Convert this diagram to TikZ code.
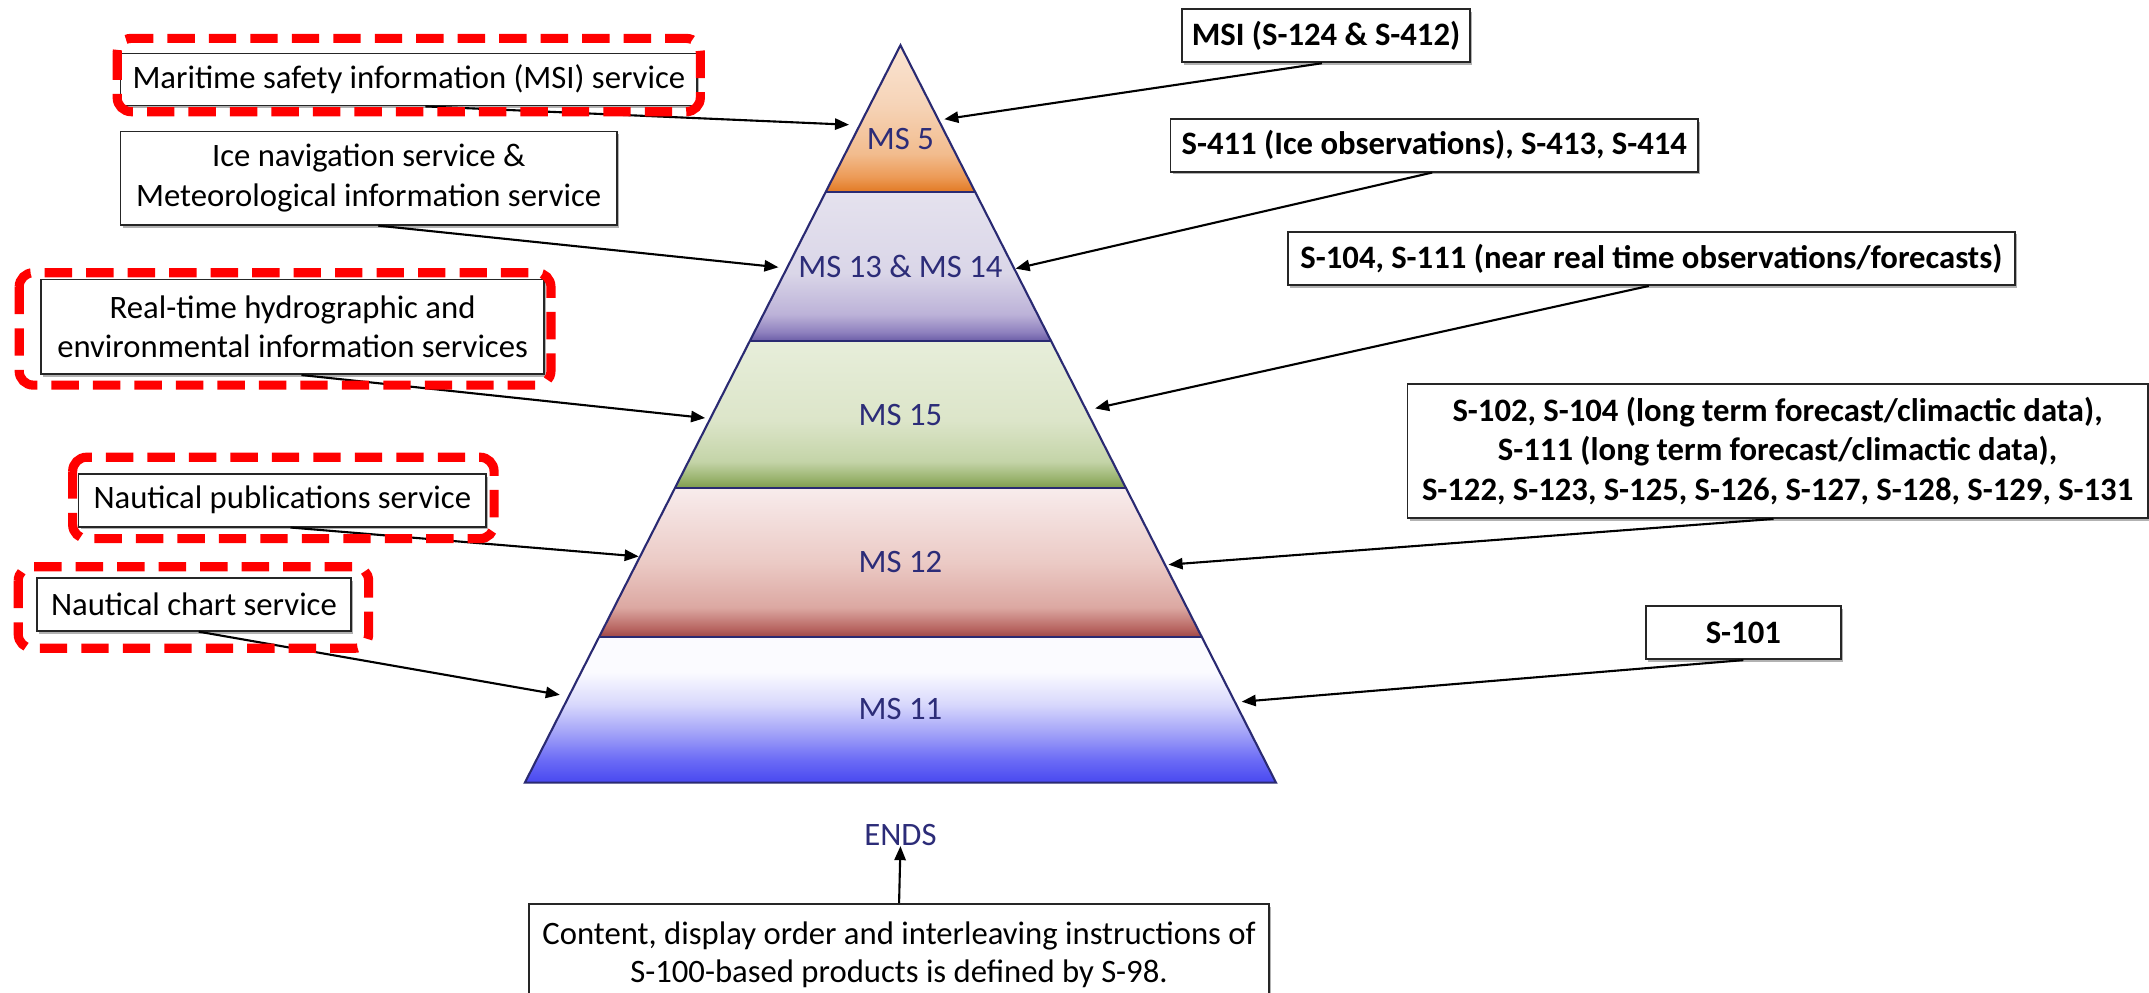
\documentclass[tikz,border=0pt]{standalone}
\usepackage{fontspec}
\setmainfont{Carlito}
\usetikzlibrary{arrows.meta,calc,shadows}

% one drawing unit
\newcommand{\dpx}{0.013705cm}

\definecolor{pyrline}{HTML}{2A2A72}
\definecolor{lvltext}{HTML}{2C2C78}
\definecolor{hired}{HTML}{FF0000}

% band colours, bottom (dark) to top (light)
\definecolor{fiveA}{HTML}{E27A24}\definecolor{fiveB}{HTML}{EC9A56}\definecolor{fiveC}{HTML}{F2BC8E}\definecolor{fiveD}{HTML}{F6D4B8}\definecolor{fiveE}{HTML}{FAE4D2}
\definecolor{thirA}{HTML}{6A5CA6}\definecolor{thirB}{HTML}{8E80BE}\definecolor{thirC}{HTML}{BCB2D8}\definecolor{thirD}{HTML}{DAD6E8}\definecolor{thirE}{HTML}{E5E2EE}
\definecolor{fiftA}{HTML}{7E9C4E}\definecolor{fiftB}{HTML}{98B26C}\definecolor{fiftC}{HTML}{C4D4A8}\definecolor{fiftD}{HTML}{DCE5C9}\definecolor{fiftE}{HTML}{E7EEDA}
\definecolor{twelA}{HTML}{9E4646}\definecolor{twelB}{HTML}{B86662}\definecolor{twelC}{HTML}{DCA8A2}\definecolor{twelD}{HTML}{EBCAC5}\definecolor{twelE}{HTML}{F8ECEC}
\definecolor{elevA}{HTML}{4848F0}\definecolor{elevB}{HTML}{6C6CF6}\definecolor{elevC}{HTML}{A2A2F8}\definecolor{elevD}{HTML}{D8D8FC}\definecolor{elevE}{HTML}{FBFBFF}

\pgfdeclareverticalshading{bandfive}{100bp}{color(0bp)=(fiveA); color(25bp)=(fiveA); color(30bp)=(fiveB); color(38bp)=(fiveC); color(55bp)=(fiveD); color(75bp)=(fiveE); color(100bp)=(fiveE)}
\pgfdeclareverticalshading{bandthirteen}{100bp}{color(0bp)=(thirA); color(25bp)=(thirA); color(28bp)=(thirB); color(34bp)=(thirC); color(48bp)=(thirD); color(75bp)=(thirE); color(100bp)=(thirE)}
\pgfdeclareverticalshading{bandfifteen}{100bp}{color(0bp)=(fiftA); color(25bp)=(fiftA); color(28bp)=(fiftB); color(34bp)=(fiftC); color(48bp)=(fiftD); color(75bp)=(fiftE); color(100bp)=(fiftE)}
\pgfdeclareverticalshading{bandtwelve}{100bp}{color(0bp)=(twelA); color(25bp)=(twelA); color(28bp)=(twelB); color(35bp)=(twelC); color(50bp)=(twelD); color(75bp)=(twelE); color(100bp)=(twelE)}
\pgfdeclareverticalshading{bandeleven}{100bp}{color(0bp)=(elevA); color(25bp)=(elevA); color(33bp)=(elevB); color(42bp)=(elevC); color(52bp)=(elevD); color(63bp)=(elevE); color(75bp)=(elevE); color(100bp)=(elevE)}

\tikzset{
  txtbox/.style={draw=black!85, line width=0.5pt, fill=white, inner sep=0pt, align=center,
    font=\fontsize{9.3}{11.2}\selectfont,
    drop shadow={shadow xshift=0.6pt, shadow yshift=-0.8pt, fill=black!30, opacity=1}},
  codebox/.style={txtbox, font=\fontsize{9.3}{11.2}\selectfont\bfseries},
  lvl/.style={text=lvltext, font=\fontsize{9.3}{11.2}\selectfont, inner sep=0pt},
  conn/.style={draw=black, line width=0.6pt, -{Triangle[length=4pt,width=3.2pt]}},
  hilite/.style={draw=hired, line width=2.6pt, rounded corners=4pt, dash pattern=on 7.8pt off 4pt}
}

\begin{document}
\begin{tikzpicture}[x=\dpx, y=-\dpx]
\useasboundingbox (0,0) rectangle (1568,724.5);
\clip (0,0) rectangle (1568,724.5);

% pyramid bands
\shade[shading=bandfive]     (657,33) -- (711.5,140) -- (602.5,140) -- cycle;
\shade[shading=bandthirteen] (602.5,140) -- (711.5,140) -- (767,249) -- (547,249) -- cycle;
\shade[shading=bandfifteen]  (547,249) -- (767,249) -- (821.5,356) -- (492.5,356) -- cycle;
\shade[shading=bandtwelve]   (492.5,356) -- (821.5,356) -- (877,465) -- (437,465) -- cycle;
\shade[shading=bandeleven]   (437,465) -- (877,465) -- (931,571) -- (383,571) -- cycle;
\draw[pyrline, line width=0.6pt]
  (602.5,140) -- (711.5,140) (547,249) -- (767,249) (492.5,356) -- (821.5,356) (437,465) -- (877,465);
\draw[pyrline, line width=0.6pt, line join=miter] (657,33) -- (931,571) -- (383,571) -- cycle;

% level labels
\node[lvl] (ms5)  at (657,101.5) {MS 5};
\node[lvl] (ms13) at (657,194.5) {MS 13 \& MS 14};
\node[lvl] (ms15) at (657,302.5) {MS 15};
\node[lvl] (ms12) at (657,410)   {MS 12};
\node[lvl] (ms11) at (657,517.5) {MS 11};
\node[lvl] (ends) at (657,609)   {ENDS};

% arrow tips on the pyramid sides
\coordinate (t1) at (619.5,91);
\coordinate (t2) at (568,195);
\coordinate (t3) at (514.5,305);
\coordinate (t4) at (466,406);
\coordinate (t5) at (408.5,507);
\coordinate (r1) at (689,87);
\coordinate (r2) at (741,196);
\coordinate (r3) at (799,298);
\coordinate (r4) at (852.6,412);
\coordinate (r5) at (906,512);

% services
\node[txtbox, minimum width=420.6*\dpx, minimum height=38*\dpx] (msi) at (298.3,58)
  {Maritime safety information (MSI) service};
\node[txtbox, minimum width=362*\dpx, minimum height=68*\dpx] (ice) at (269,130)
  {Ice navigation service \&\\Meteorological information service};
\node[txtbox, minimum width=367*\dpx, minimum height=69*\dpx] (rt) at (213.5,238.5)
  {Real-time hydrographic and\\environmental information services};
\node[txtbox, minimum width=297.5*\dpx, minimum height=38.5*\dpx] (pub) at (206,365)
  {Nautical publications service};
\node[txtbox, minimum width=229*\dpx, minimum height=38.5*\dpx] (chart) at (141.5,441)
  {Nautical chart service};

% product specifications
\node[codebox, minimum width=210*\dpx, minimum height=39*\dpx] (s124) at (967.5,26)
  {MSI (S-124 \& S-412)};
\node[codebox, minimum width=385*\dpx, minimum height=38.5*\dpx] (s411) at (1046.5,106)
  {S-411 (Ice observations), S-413, S-414};
\node[codebox, minimum width=530*\dpx, minimum height=39*\dpx] (s104) at (1205,188.5)
  {S-104, S-111 (near real time observations/forecasts)};
\node[codebox, minimum width=540*\dpx, minimum height=98*\dpx] (s102) at (1297,329)
  {S-102, S-104 (long term forecast/climactic data),\\S-111 (long term forecast/climactic data),\\S-122, S-123, S-125, S-126, S-127, S-128, S-129, S-131};
\node[codebox, minimum width=142*\dpx, minimum height=39*\dpx] (s101) at (1272,461.5)
  {S-101};

% portrayal box
\node[txtbox, anchor=north, minimum width=540*\dpx, minimum height=74*\dpx,
      font=\fontsize{9.3}{10.6}\selectfont] (s98) at (656,659)
  {Content, display order and interleaving instructions of\\S-100-based products is defined by S-98.};

% connectors
\draw[conn] ($(msi.south)+(12,0)$) -- (t1);
\draw[conn] ($(ice.south)+(7,0)$) -- (t2);
\draw[conn] ($(rt.south)+(6.5,0)$) -- (t3);
\draw[conn] ($(pub.south)+(6,0)$) -- (t4);
\draw[conn] ($(chart.south)+(3.5,0)$) -- (t5);
\draw[conn] ($(s124.south)+(-3,0)$) -- (r1);
\draw[conn] ($(s411.south)+(-1.5,0)$) -- (r2);
\draw[conn] ($(s104.south)+(-2,0)$) -- (r3);
\draw[conn] ($(s102.south)+(-3,0)$) -- (r4);
\draw[conn] (s101.south) -- (r5);
\draw[conn] (s98.north) -- (ends.south);

% highlighted services
\draw[hilite] (85.5,28) rectangle (511,81.5);
\draw[hilite] (14,199) rectangle (402,281);
\draw[hilite] (53,333.6) rectangle (360.5,393);
\draw[hilite] (13.3,413.5) rectangle (269,473);
\end{tikzpicture}
\end{document}
